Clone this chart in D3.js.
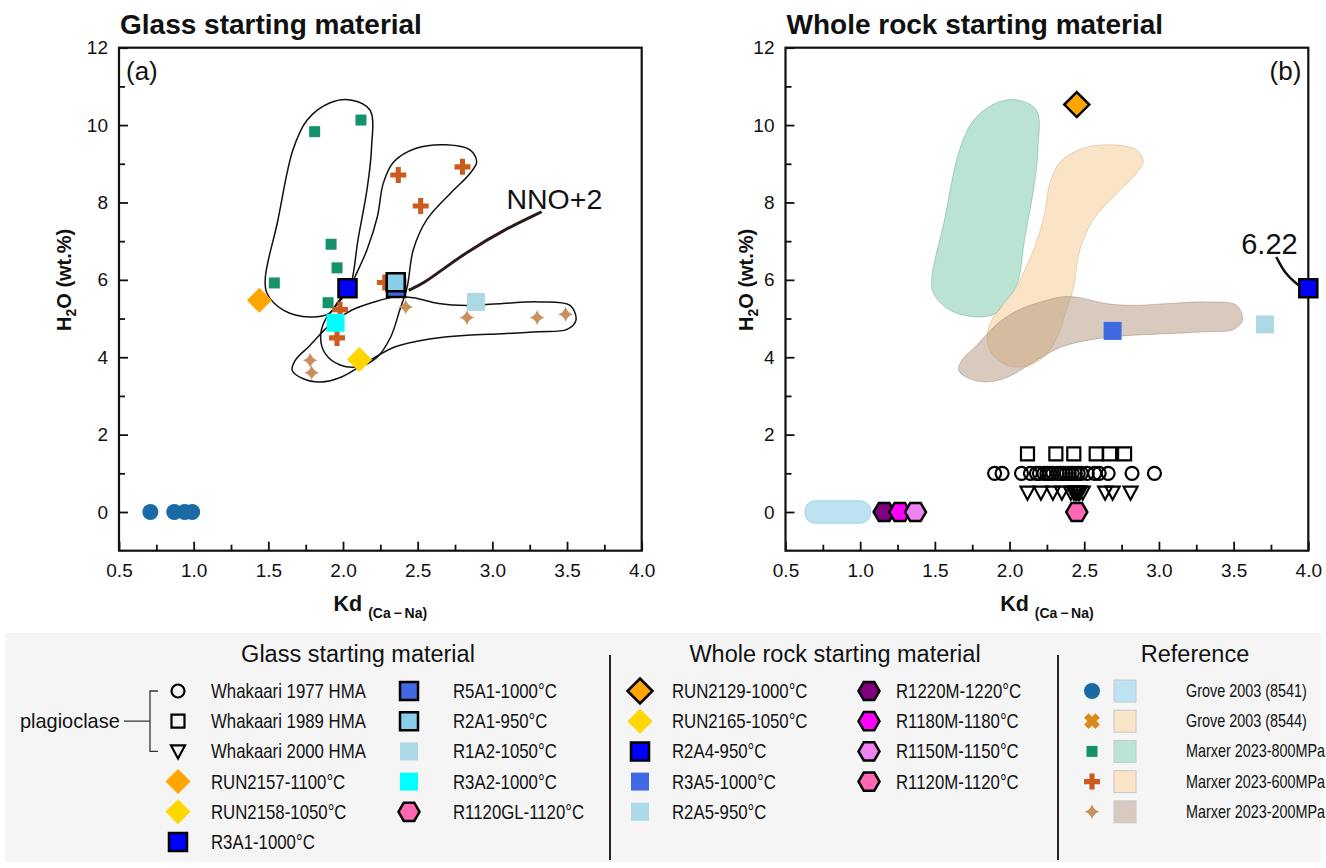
<!DOCTYPE html>
<html>
<head>
<meta charset="utf-8">
<script src="https://cdn.jsdelivr.net/npm/d3@7"></script>
<style>
  body { margin: 0; background: #ffffff; }
  svg text { font-family: "Liberation Sans", Arial, Helvetica, sans-serif; fill: #111; }
</style>
</head>
<body>
<svg id="chart" width="1326" height="868"></svg>
<script>
// ---------------- data ----------------
// axis ticks
const xMajorTicks = [0.5, 1.0, 1.5, 2.0, 2.5, 3.0, 3.5, 4.0];
const xMinorTicks = [0.75, 1.25, 1.75, 2.25, 2.75, 3.25, 3.75];
const yMajorTicks = [0, 2, 4, 6, 8, 10, 12];
const yMinorTicks = [1, 3, 5, 7, 9, 11];

// Reference data (Kd, H2O wt.%)
const grove8541Kd = [0.71, 0.87, 0.94, 0.99];           // H2O = 0
const marxer800 = [[1.81, 9.83], [2.12, 10.13], [1.92, 6.92], [1.96, 6.31], [1.54, 5.92], [1.90, 5.41]];
const marxer600 = [[2.37, 8.71], [2.80, 8.92], [2.52, 7.91], [2.28, 5.93], [1.98, 5.23], [1.96, 4.50]];
const marxer200 = [[2.42, 5.30], [2.83, 5.03], [3.30, 5.03], [3.49, 5.11], [1.78, 3.92], [1.79, 3.60]];

// Outlines of the Marxer 2023 fields
const field800 = [[2.05, 10.65], [2.18, 10.39], [2.19, 9.36], [2.16, 8.32], [2.10, 7.03], [2.06, 6.00], [2.03, 5.74],
  [1.96, 5.40], [1.91, 5.14], [1.78, 5.04], [1.60, 5.22], [1.49, 5.66], [1.48, 6.07], [1.56, 7.47], [1.665, 9.36],
  [1.76, 10.13], [1.91, 10.57]];
const field600 = [[2.05, 5.82], [1.95, 5.31], [1.88, 4.96], [1.85, 4.53], [1.88, 4.10], [1.98, 3.80], [2.11, 3.76],
  [2.23, 4.01], [2.32, 4.53], [2.38, 5.22], [2.43, 5.82], [2.47, 6.77], [2.56, 7.55], [2.72, 8.24], [2.85, 8.75],
  [2.895, 9.05], [2.85, 9.36], [2.69, 9.49], [2.49, 9.40], [2.34, 9.05], [2.27, 8.50], [2.23, 7.63], [2.16, 6.77],
  [2.08, 6.08]];
const field200 = [[3.56, 4.96], [3.52, 5.34], [3.31, 5.43], [3.07, 5.39], [2.83, 5.34], [2.64, 5.39], [2.47, 5.54],
  [2.35, 5.56], [2.21, 5.43], [2.06, 5.22], [1.92, 4.87], [1.78, 4.31], [1.68, 3.92], [1.66, 3.66], [1.73, 3.45],
  [1.85, 3.36], [1.99, 3.49], [2.18, 3.92], [2.35, 4.27], [2.59, 4.48], [2.83, 4.57], [3.07, 4.61], [3.31, 4.66],
  [3.50, 4.72]];
// Grove 2003 (8541) field: [Kd min, Kd max, H2O min, H2O max]
const field8541 = [0.63, 1.07, -0.29, 0.29];

// Glass starting material experiments
const glassIds = ["RUN2157", "RUN2158", "R3A2", "R1A2", "R5A1", "R2A1", "R3A1"];
const glassKd  = [1.44, 2.11, 1.95, 2.89, 2.355, 2.353, 2.03];
const glassH2O = [5.47, 3.94, 4.89, 5.43, 5.79, 5.94, 5.78];

// Whole rock starting material experiments
const rockIds = ["RUN2129", "R3A5", "R2A5", "R2A4", "R1220M", "R1180M", "R1150M", "R1120M"];
const rockKd  = [2.45, 2.69, 3.71, 6.22, 1.16, 1.265, 1.37, 2.45];
const rockH2O = [10.53, 4.68, 4.85, 5.78, 0, 0, 0, 0];

// Whakaari plagioclase Kd (plotted at fixed offsets)
const wk1977 = [1.90, 1.95, 2.08, 2.14, 2.18, 2.20, 2.23, 2.25, 2.27, 2.29, 2.32, 2.34, 2.36, 2.38, 2.40, 2.42,
  2.44, 2.46, 2.48, 2.52, 2.57, 2.60, 2.66, 2.82, 2.97];
const wk1989 = [2.12, 2.31, 2.43, 2.58, 2.67, 2.77];
const wk2000 = [2.12, 2.21, 2.29, 2.35, 2.41, 2.43, 2.44, 2.45, 2.46, 2.47, 2.49, 2.64, 2.69, 2.81];
const wkOffsets = [1.0, 1.5, 0.5];

// Annotations
const nnoLabel = ["NNO+2", 3.415, 7.84];
const nnoLeader = [[3.33, 7.76], [3.07, 7.28], [2.83, 6.72], [2.66, 6.25], [2.54, 5.91], [2.44, 5.73]];
const offscaleLeader = [[3.786, 6.59], [3.845, 6.16], [3.917, 5.91], [3.965, 5.78]];

// Legend entries
const legendGlassA = [["w1977", "Whakaari 1977 HMA"], ["w1989", "Whakaari 1989 HMA"], ["w2000", "Whakaari 2000 HMA"],
  ["RUN2157", "RUN2157-1100°C"], ["RUN2158", "RUN2158-1050°C"], ["R3A1", "R3A1-1000°C"]];
const legendGlassB = [["R5A1", "R5A1-1000°C"], ["R2A1", "R2A1-950°C"], ["R1A2", "R1A2-1050°C"],
  ["R3A2", "R3A2-1000°C"], ["R1120GL", "R1120GL-1120°C"]];
const legendRockA = [["RUN2129", "RUN2129-1000°C"], ["RUN2165", "RUN2165-1050°C"], ["R2A4", "R2A4-950°C"],
  ["R3A5", "R3A5-1000°C"], ["R2A5", "R2A5-950°C"]];
const legendRockB = [["R1220M", "R1220M-1220°C"], ["R1180M", "R1180M-1180°C"], ["R1150M", "R1150M-1150°C"],
  ["R1120M", "R1120M-1120°C"]];
const legendRef = [["grove8541", "f8541", "Grove 2003 (8541)"], ["grove8544", "f8544", "Grove 2003 (8544)"],
  ["marxer800", "f800", "Marxer 2023-800MPa"], ["marxer600", "f600", "Marxer 2023-600MPa"],
  ["marxer200", "f200", "Marxer 2023-200MPa"]];

// ---------------- styles ----------------
const sym = {
  w1977:   { shape: "circle",  size: 13, fill: "none",    stroke: "#000", sw: 2.2 },
  w1989:   { shape: "square",  size: 13, fill: "none",    stroke: "#000", sw: 2.2 },
  w2000:   { shape: "triDown", size: 14, fill: "none",    stroke: "#000", sw: 2.2 },
  RUN2157: { shape: "diamond", size: 25, fill: "#ffa500" },
  RUN2158: { shape: "diamond", size: 25, fill: "#ffd700" },
  R3A1:    { shape: "square",  size: 18, fill: "#0000ff", stroke: "#000", sw: 2.5 },
  R5A1:    { shape: "square",  size: 18, fill: "#4169e1", stroke: "#000", sw: 2.5 },
  R2A1:    { shape: "square",  size: 18, fill: "#87ceeb", stroke: "#000", sw: 2.5 },
  R1A2:    { shape: "square",  size: 18, fill: "#add8e6" },
  R3A2:    { shape: "square",  size: 18, fill: "#00ffff" },
  R1120GL: { shape: "hex",     size: 21, fill: "#ff69b4", stroke: "#000", sw: 2.5 },
  RUN2129: { shape: "diamond", size: 25, fill: "#ffa500", stroke: "#000", sw: 2.5 },
  RUN2165: { shape: "diamond", size: 25, fill: "#ffd700" },
  R2A4:    { shape: "square",  size: 18, fill: "#0000ff", stroke: "#000", sw: 2.5 },
  R3A5:    { shape: "square",  size: 18, fill: "#4169e1" },
  R2A5:    { shape: "square",  size: 18, fill: "#add8e6" },
  R1220M:  { shape: "hex",     size: 21, fill: "#800080", stroke: "#000", sw: 2.5 },
  R1180M:  { shape: "hex",     size: 21, fill: "#ff00ff", stroke: "#000", sw: 2.5 },
  R1150M:  { shape: "hex",     size: 21, fill: "#ee82ee", stroke: "#000", sw: 2.5 },
  R1120M:  { shape: "hex",     size: 21, fill: "#ff69b4", stroke: "#000", sw: 2.5 },
  grove8541: { shape: "circle", size: 16, fill: "#1a6aa6" },
  grove8544: { shape: "xcross", size: 16, fill: "#da8a1c" },
  marxer800: { shape: "square", size: 11, fill: "#14926b" },
  marxer600: { shape: "plus",   size: 16, fill: "#cc5b1d" },
  marxer200: { shape: "star4",  size: 15, fill: "#c98f5d" }
};
const fieldStyle = {
  f8541: { fill: "#bde3f2", stroke: "#a8d3e6", op: 1 },
  f8544: { fill: "#f9e4c6", stroke: "#d8c8b0", op: 1 },
  f800:  { fill: "#66c29f", stroke: "#3d8f6e", op: 0.45 },
  f600:  { fill: "#f6c98b", stroke: "#b59a72", op: 0.5 },
  f200:  { fill: "#a88a70", stroke: "#806650", op: 0.45 }
};

function shapePath(shape, s) {
  const h = s / 2;
  switch (shape) {
    case "circle":  return `M${h},0A${h},${h} 0 1 1 ${-h},0A${h},${h} 0 1 1 ${h},0Z`;
    case "square":  return `M${-h},${-h}H${h}V${h}H${-h}Z`;
    case "diamond": return `M0,${-h}L${h},0L0,${h}L${-h},0Z`;
    case "triDown": return `M${-h},${-h * 0.85}L${h},${-h * 0.85}L0,${h}Z`;
    case "hex": {
      const r = h, k = r * Math.sqrt(3) / 2;
      return `M${r},0L${r / 2},${k}L${-r / 2},${k}L${-r},0L${-r / 2},${-k}L${r / 2},${-k}Z`;
    }
    case "plus": {
      const t = s * 0.16;
      return `M${-t},${-h}H${t}V${-t}H${h}V${t}H${t}V${h}H${-t}V${t}H${-h}V${-t}H${-t}Z`;
    }
    case "xcross": {
      const t = s * 0.2, p = h;
      const pts = [[-t, -p], [t, -p], [t, -t], [p, -t], [p, t], [t, t], [t, p], [-t, p], [-t, t], [-p, t], [-p, -t], [-t, -t]];
      const c = Math.SQRT1_2;
      return "M" + pts.map(([a, b]) => [(a - b) * c, (a + b) * c].join(",")).join("L") + "Z";
    }
    case "star4": {
      const q = h * 0.22;
      return `M0,${-h}Q${q},${-q} ${h},0Q${q},${q} 0,${h}Q${-q},${q} ${-h},0Q${-q},${-q} 0,${-h}Z`;
    }
  }
}

function drawSymbol(g, key, cx, cy) {
  const st = sym[key];
  return g.append("path")
    .attr("d", shapePath(st.shape, st.size))
    .attr("transform", `translate(${cx},${cy})`)
    .attr("fill", st.fill)
    .attr("stroke", st.stroke || "none")
    .attr("stroke-width", st.sw || 0)
    .attr("stroke-linejoin", "miter");
}

// ---------------- chart ----------------
const svg = d3.select("#chart");
const yRange = [550.7, 47.7];

function makePanel(xRange, title, tag, tagSide, yTitleGap) {
  const x = d3.scaleLinear().domain([0.5, 4.0]).range(xRange).clamp(true);
  const y = d3.scaleLinear().domain([-1, 12]).range(yRange);
  const g = svg.append("g");

  // axes (ticks pointing inward)
  g.append("g").attr("transform", `translate(0,${y(-1)})`)
    .call(d3.axisBottom(x).tickValues(xMajorTicks).tickSize(-9).tickPadding(12.5).tickFormat(d3.format(".1f")));
  g.append("g").attr("transform", `translate(0,${y(-1)})`)
    .call(d3.axisBottom(x).tickValues(xMinorTicks).tickSize(-6).tickFormat(""));
  g.append("g").attr("transform", `translate(${x(0.5)},0)`)
    .call(d3.axisLeft(y).tickValues(yMajorTicks).tickSize(-9).tickPadding(11));
  g.append("g").attr("transform", `translate(${x(0.5)},0)`)
    .call(d3.axisLeft(y).tickValues(yMinorTicks).tickSize(-6).tickFormat(""));
  g.selectAll(".domain").remove();
  g.selectAll(".tick line").attr("stroke", "#111").attr("stroke-width", 1.8);
  g.selectAll(".tick text").attr("font-size", 19).attr("fill", "#111")
    .style("font-family", '"Liberation Sans", Arial, sans-serif');

  // frame
  g.append("rect").attr("x", xRange[0]).attr("y", yRange[1])
    .attr("width", xRange[1] - xRange[0]).attr("height", yRange[0] - yRange[1])
    .attr("fill", "none").attr("stroke", "#111").attr("stroke-width", 2.2);

  // titles
  g.append("text").attr("x", xRange[0] + 1).attr("y", 34).attr("font-size", 28)
    .attr("font-weight", "bold").attr("fill", "#000").text(title);

  const yt = g.append("text").attr("transform", `translate(${xRange[0] - yTitleGap},${y(6)}) rotate(-90)`)
    .attr("text-anchor", "middle").attr("font-size", 20).attr("font-weight", "bold").attr("fill", "#000");
  yt.append("tspan").text("H");
  yt.append("tspan").attr("font-size", 14).attr("dy", 5).text("2");
  yt.append("tspan").attr("dy", -5).text("O (wt.%)");

  const xt = g.append("text").attr("x", (xRange[0] + xRange[1]) / 2).attr("y", 611)
    .attr("text-anchor", "middle").attr("font-weight", "bold").attr("fill", "#000");
  xt.append("tspan").attr("font-size", 21.5).text("Kd ");
  xt.append("tspan").attr("font-size", 14).attr("dy", 7).text("(Ca\u2009\u2212\u2009Na)");

  const tx = tagSide === "left" ? xRange[0] + 7 : xRange[1] - 7;
  g.append("text").attr("x", tx).attr("y", 80).attr("font-size", 26)
    .attr("text-anchor", tagSide === "left" ? "start" : "end").text(tag);

  return { g, x, y };
}

// ---------- panel (a): glass starting material ----------
{
  const { g, x, y } = makePanel([119, 641.7], "Glass starting material", "(a)", "left", 48);
  const loop = d3.line().x(d => x(d[0])).y(d => y(d[1])).curve(d3.curveCatmullRomClosed.alpha(0.5));
  [field800, field600, field200].forEach(f => {
    g.append("path").attr("d", loop(f)).attr("fill", "none").attr("stroke", "#111").attr("stroke-width", 1.5);
  });

  // leader line to NNO+2 label
  g.append("path")
    .attr("d", d3.line().x(d => x(d[0])).y(d => y(d[1])).curve(d3.curveBasis)(nnoLeader))
    .attr("fill", "none").attr("stroke", "#2a1a18").attr("stroke-width", 3);
  g.append("text").attr("x", x(nnoLabel[1])).attr("y", y(nnoLabel[2])).attr("text-anchor", "middle")
    .attr("font-size", 28.5).attr("fill", "#000").text(nnoLabel[0]);

  grove8541Kd.forEach(k => drawSymbol(g, "grove8541", x(k), y(0)));
  marxer800.forEach(d => drawSymbol(g, "marxer800", x(d[0]), y(d[1])));
  marxer600.forEach(d => drawSymbol(g, "marxer600", x(d[0]), y(d[1])));
  marxer200.forEach(d => drawSymbol(g, "marxer200", x(d[0]), y(d[1])));

  glassIds.forEach((id, i) => drawSymbol(g, id, x(glassKd[i]), y(glassH2O[i])));
}

// ---------- panel (b): whole rock starting material ----------
{
  const { g, x, y } = makePanel([785.5, 1308.3], "Whole rock starting material", "(b)", "right", 33);
  const area = d3.line().x(d => x(d[0])).y(d => y(d[1])).curve(d3.curveCatmullRomClosed.alpha(0.5));
  [["f800", field800], ["f600", field600], ["f200", field200]].forEach(([k, f]) => {
    const st = fieldStyle[k];
    g.append("path").attr("d", area(f)).attr("fill", st.fill).attr("fill-opacity", st.op)
      .attr("stroke", st.stroke).attr("stroke-opacity", 0.35).attr("stroke-width", 1);
  });
  const gf = fieldStyle.f8541;
  g.append("rect").attr("x", x(field8541[0])).attr("y", y(field8541[3]))
    .attr("width", x(field8541[1]) - x(field8541[0])).attr("height", y(field8541[2]) - y(field8541[3]))
    .attr("rx", 10).attr("fill", gf.fill).attr("stroke", gf.stroke).attr("stroke-width", 1);

  // Whakaari plagioclase
  wk1989.forEach(k => drawSymbol(g, "w1989", x(k), y(wkOffsets[1])));
  wk1977.forEach(k => drawSymbol(g, "w1977", x(k), y(wkOffsets[0])));
  wk2000.forEach(k => drawSymbol(g, "w2000", x(k), y(wkOffsets[2])));

  // off-scale annotation for R2A4
  const iOff = rockIds.indexOf("R2A4");
  g.append("path")
    .attr("d", d3.line().x(d => x(d[0])).y(d => y(d[1])).curve(d3.curveBasis)(offscaleLeader))
    .attr("fill", "none").attr("stroke", "#111").attr("stroke-width", 2.5);
  g.append("text").attr("x", x(3.74)).attr("y", y(6.68)).attr("text-anchor", "middle")
    .attr("font-size", 29).attr("fill", "#000").text(rockKd[iOff].toFixed(2));

  rockIds.forEach((id, i) => drawSymbol(g, id, x(rockKd[i]), y(rockH2O[i])));
}

// ---------------- legend ----------------
{
  const lg = svg.append("g");
  lg.append("rect").attr("x", 5).attr("y", 633).attr("width", 1316).attr("height", 229)
    .attr("rx", 3).attr("fill", "#f5f5f5");

  const rowY = i => 691 + i * 30.2;
  // condensed legend text
  const label = (tx, ty, fs, txt, sx) => lg.append("text")
    .attr("transform", `translate(${tx},${ty}) scale(${sx},1)`).attr("font-size", fs).text(txt);

  const heads = [["Glass starting material", 358], ["Whole rock starting material", 835], ["Reference", 1195]];
  heads.forEach(([t, cx]) => lg.append("text").attr("x", cx).attr("y", 662).attr("text-anchor", "middle")
    .attr("font-size", 23.5).attr("fill", "#111").text(t));

  [610, 1058].forEach(xd => lg.append("line").attr("x1", xd).attr("x2", xd).attr("y1", 655).attr("y2", 860)
    .attr("stroke", "#2a2222").attr("stroke-width", 2));

  function column(entries, sx, tx) {
    entries.forEach((e, i) => {
      drawSymbol(lg, e[0], sx, rowY(i));
      label(tx, rowY(i) + 7, 20, e[e.length - 1], 0.84);
    });
  }
  column(legendGlassA, 178, 211);
  column(legendGlassB, 409, 453);
  column(legendRockA, 640, 672);
  column(legendRockB, 869, 896);

  // bracket grouping the Whakaari plagioclase entries
  label(20, rowY(1) + 7, 21, "plagioclase", 0.95);
  lg.append("path").attr("d", `M124,${rowY(1)}H150M158,${rowY(0)}H150V${rowY(2)}H158`)
    .attr("fill", "none").attr("stroke", "#333").attr("stroke-width", 1.3);

  legendRef.forEach((e, i) => {
    drawSymbol(lg, e[0], 1092, rowY(i));
    const st = fieldStyle[e[1]];
    const base = d3.color(st.fill);
    // swatch shows the field colour as it appears on white
    const a = st.op;
    const c = d3.rgb(255 - (255 - base.r) * a, 255 - (255 - base.g) * a, 255 - (255 - base.b) * a);
    lg.append("rect").attr("x", 1114).attr("y", rowY(i) - 11).attr("width", 22).attr("height", 22)
      .attr("fill", c).attr("stroke", "#c8c8c8").attr("stroke-width", 1);
    label(1186, rowY(i) + 6, 18, e[2], 0.8);
  });
}
</script>
</body>
</html>
